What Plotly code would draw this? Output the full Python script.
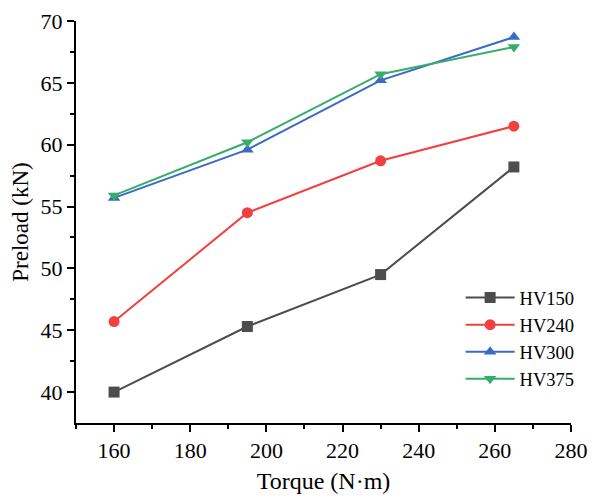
import plotly.graph_objects as go

torque = [160, 195, 230, 265]
hv150 = [40.0, 45.3, 49.5, 58.2]
hv240 = [45.7, 54.5, 58.7, 61.5]
hv300 = [55.7, 59.6, 65.2, 68.7]
hv375 = [55.9, 60.2, 65.7, 67.9]

series = [
    ("HV150", hv150, "#4d4d4d", "square"),
    ("HV240", hv240, "#f04040", "circle"),
    ("HV300", hv300, "#3a6bc4", "triangle-up"),
    ("HV375", hv375, "#37ad6b", "triangle-down"),
]

fig = go.Figure()
for name, vals, color, sym in series:
    fig.add_trace(go.Scatter(
        x=torque, y=vals, name=name, mode="lines+markers",
        line=dict(color=color, width=2),
        marker=dict(symbol=sym, size=11, color=color),
    ))

font = "Liberation Serif, Times New Roman, serif"
fig.update_layout(
    width=592, height=498,
    margin=dict(l=76, r=19, t=21, b=75),
    paper_bgcolor="white", plot_bgcolor="white",
    font=dict(family=font, size=22, color="black"),
    showlegend=True,
    legend=dict(x=0.777, y=0.358, xanchor="left", yanchor="top",
                font=dict(family=font, size=18.5, color="black"),
                bgcolor="rgba(0,0,0,0)", tracegroupgap=0, itemwidth=49),
    xaxis=dict(
        range=[150, 280], tickvals=[160, 180, 200, 220, 240, 260, 280],
        showline=True, linecolor="black", linewidth=2,
        ticks="outside", ticklen=7, tickwidth=2, tickcolor="black",
        minor=dict(tickvals=[150, 170, 190, 210, 230, 250, 270], ticks="outside", ticklen=4, tickwidth=2, tickcolor="black"),
        showgrid=False, zeroline=False, automargin=False,
        title=dict(text="Torque (N·m)", font=dict(size=24), standoff=10),
        tickfont=dict(size=22),
    ),
    yaxis=dict(
        range=[37.5, 70], tickvals=[40, 45, 50, 55, 60, 65, 70],
        showline=True, linecolor="black", linewidth=2,
        ticks="outside", ticklen=7, tickwidth=2, tickcolor="black",
        minor=dict(tickvals=[42.5, 47.5, 52.5, 57.5, 62.5, 67.5], ticks="outside", ticklen=4, tickwidth=2, tickcolor="black"),
        showgrid=False, zeroline=False, automargin=False,
        title=dict(text="Preload (kN)", font=dict(size=23), standoff=6),
        tickfont=dict(size=22),
    ),
)
fig.write_html("out.html", config={"displayModeBar": False},
               post_script="document.body.style.margin='0px';document.body.style.overflow='hidden';")
